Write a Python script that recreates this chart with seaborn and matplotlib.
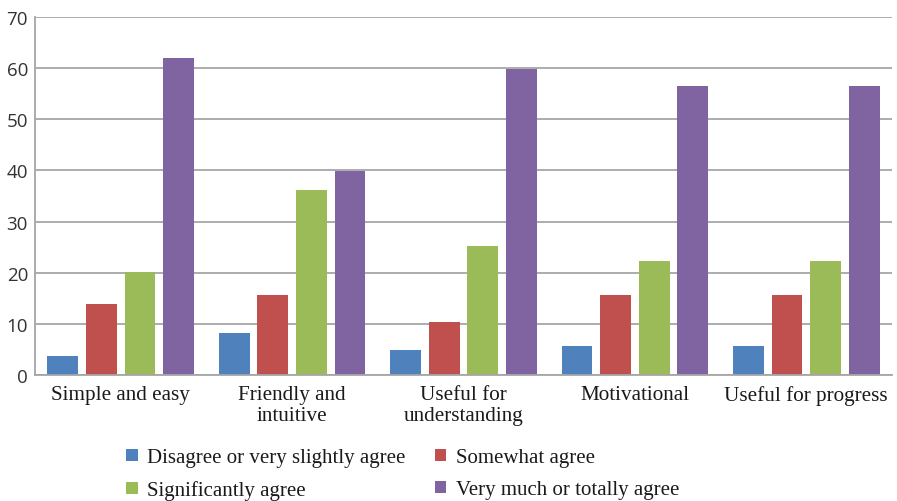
import matplotlib
matplotlib.use("Agg")
import matplotlib.pyplot as plt
import seaborn as sns
import pandas as pd
from matplotlib.patches import Patch

categories = ["Simple and easy", "Friendly and\nintuitive", "Useful for\nunderstanding",
              "Motivational", "Useful for progress"]
series_names = ["Disagree or very slightly agree", "Somewhat agree",
                "Significantly agree", "Very much or totally agree"]
disagree = [3.8, 8.2, 4.8, 5.7, 5.7]
somewhat = [13.9, 15.6, 10.4, 15.6, 15.6]
significantly = [20.2, 36.1, 25.3, 22.3, 22.3]
very_much = [62.0, 39.9, 59.9, 56.5, 56.5]
colors = ["#4F81BD", "#C0504D", "#9BBB59", "#8064A2"]

rows = []
for name, vals in zip(series_names, [disagree, somewhat, significantly, very_much]):
    for cat, v in zip(categories, vals):
        rows.append({"category": cat, "series": name, "value": v})
df = pd.DataFrame(rows)

sns.set_style("white")
serif = ["Liberation Serif", "DejaVu Serif"]

fig = plt.figure(figsize=(8.97, 5.02), dpi=100)
ax = fig.add_axes([35 / 897, 1 - 376 / 502, (892 - 35) / 897, (376 - 18) / 502])

sns.barplot(data=df, x="category", y="value", hue="series", order=categories,
            hue_order=series_names, palette=colors, width=0.9, gap=0.2,
            saturation=1, linewidth=0, edgecolor="none", ax=ax, legend=False)

ax.set_ylim(0, 70)
ax.set_xlim(-0.5, 4.5)
ax.set_yticks(range(0, 71, 10))
ax.yaxis.grid(True, color="#a6a6a6", linewidth=1.3)
ax.set_axisbelow(True)
ax.set_xlabel("")
ax.set_ylabel("")

for side in ["top", "right"]:
    ax.spines[side].set_visible(False)
for side in ["left", "bottom"]:
    ax.spines[side].set_color("#a6a6a6")
    ax.spines[side].set_linewidth(1.3)

ax.tick_params(axis="y", length=0, pad=5, labelsize=13.5, labelcolor="#333333")
ax.tick_params(axis="x", length=0, pad=7)
for lab in ax.get_yticklabels():
    lab.set_family(["Open Sans", "DejaVu Sans"])
for lab in ax.get_xticklabels():
    lab.set_family(serif)
    lab.set_fontsize(15.2)
    lab.set_color("#1a1a1a")
    lab.set_linespacing(1.15)

order = [0, 2, 1, 3]
handles = [Patch(facecolor=colors[i], edgecolor="none") for i in order]
labels = [series_names[i] for i in order]
fig.legend(handles, labels, ncol=2, loc="upper left",
           bbox_to_anchor=(116 / 897, 1 - 439 / 502), frameon=False,
           prop={"family": serif, "size": 15}, handlelength=0.55, handleheight=0.55,
           handletextpad=0.45, columnspacing=1.4, labelspacing=0.62, borderpad=0,
           labelcolor="#1a1a1a")

fig.savefig("out.png", dpi=100)
